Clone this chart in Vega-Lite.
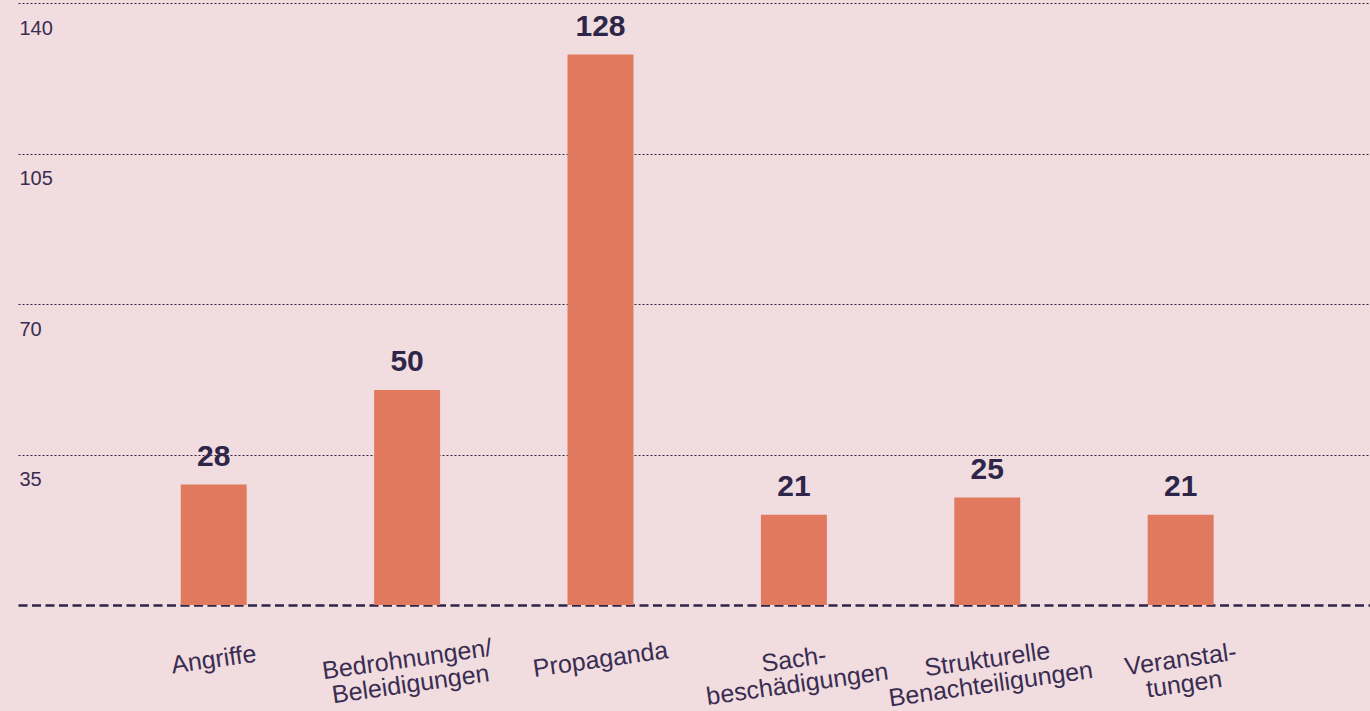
{
  "$schema": "https://vega.github.io/schema/vega-lite/v6.json",
  "autosize": "none",
  "width": 1352,
  "height": 602,
  "padding": {"left": 18, "top": 3, "right": 0, "bottom": 106},
  "background": "#f1dcdf",
  "config": {
    "view": {"stroke": null},
    "font": "Liberation Sans"
  },
  "data": {
    "values": [
      {"kategorie": "Angriffe", "anzahl": 28},
      {"kategorie": "Bedrohnungen/|Beleidigungen", "anzahl": 50},
      {"kategorie": "Propaganda", "anzahl": 128},
      {"kategorie": "Sach-|beschädigungen", "anzahl": 21},
      {"kategorie": "Strukturelle|Benachteiligungen", "anzahl": 25},
      {"kategorie": "Veranstal-|tungen", "anzahl": 21}
    ]
  },
  "encoding": {
    "x": {
      "field": "kategorie",
      "type": "nominal",
      "sort": null,
      "scale": {"paddingInner": 0.659, "paddingOuter": 0.825, "align": 0.51},
      "axis": {
        "title": null,
        "ticks": false,
        "domain": true,
        "domainColor": "#2f2548",
        "domainWidth": 2.6,
        "domainDash": [9, 4.5],
        "labelExpr": "split(datum.label, '|')",
        "labelAngle": -8,
        "labelAlign": "center",
        "labelBaseline": "middle",
        "labelPadding": 54,
        "labelFontSize": 25,
        "labelLineHeight": 25,
        "labelLimit": 500,
        "labelOverlap": false,
        "labelColor": "#3a2d52",
        "labelFont": "Liberation Sans"
      }
    },
    "y": {
      "field": "anzahl",
      "type": "quantitative",
      "scale": {"domain": [0, 140], "nice": false},
      "axis": {
        "title": null,
        "values": [35, 70, 105, 140],
        "ticks": false,
        "domain": false,
        "grid": true,
        "gridDash": [2, 2],
        "gridColor": "#2f2548",
        "gridWidth": 1,
        "gridOpacity": 1,
        "labelAlign": "left",
        "labelBaseline": "top",
        "labelPadding": -1,
        "labelOffset": 15,
        "labelFontSize": 20,
        "labelColor": "#3a2d52",
        "labelFont": "Liberation Sans"
      }
    }
  },
  "layer": [
    {
      "mark": {"type": "bar", "color": "#e0795d"}
    },
    {
      "mark": {
        "type": "text",
        "baseline": "alphabetic",
        "align": "center",
        "dy": -19,
        "fontSize": 30,
        "fontWeight": "bold",
        "color": "#2e2648",
        "font": "Liberation Sans"
      },
      "encoding": {"text": {"field": "anzahl", "type": "quantitative"}}
    }
  ]
}
